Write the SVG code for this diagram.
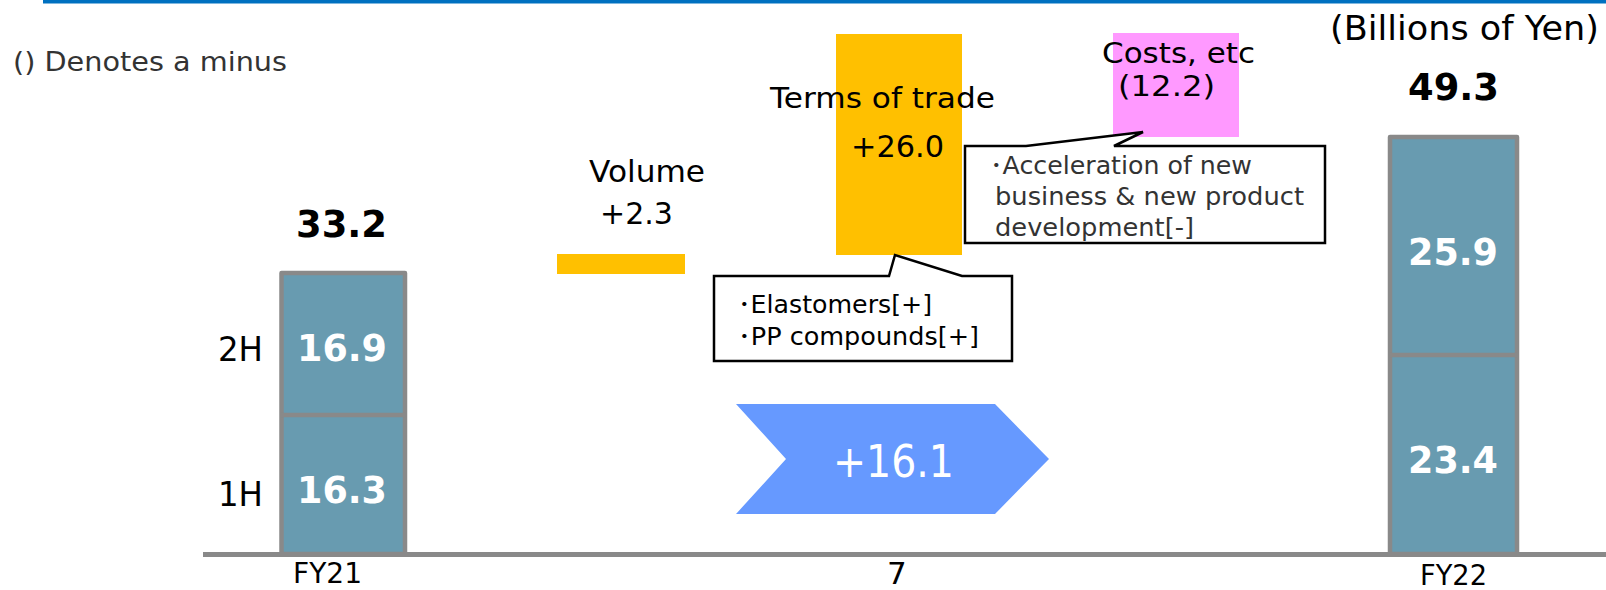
<svg xmlns="http://www.w3.org/2000/svg" width="1606" height="590" viewBox="0 0 1606 590">
<style>
text{font-family:"DejaVu Sans","Noto Sans CJK JP",sans-serif;}
.t{fill:#000;}
.g{fill:#333;}
.b{font-weight:bold;}
.w{fill:#fff;}
.bar{fill:#689BB0;stroke:#898989;stroke-width:4.5;stroke-linejoin:round;}
.div{stroke:#898989;stroke-width:4.5;}
.call{fill:#fff;stroke:#000;stroke-width:2.5;}
</style>
<rect x="43" y="0" width="1563" height="3.5" fill="#0070C0"/>
<text class="g" x="13" y="71" font-size="26" textLength="274" lengthAdjust="spacingAndGlyphs">() Denotes a minus</text>
<text class="t" x="1330" y="40" font-size="33" textLength="269" lengthAdjust="spacingAndGlyphs">(Billions of Yen)</text>

<g id="fy21">
<rect class="bar" x="281.5" y="273" width="123.5" height="281"/>
<line class="div" x1="281.5" y1="415" x2="405" y2="415"/>
<text class="t b" x="296" y="237" font-size="38" textLength="91" lengthAdjust="spacingAndGlyphs">33.2</text>
<text class="w b" x="297" y="361" font-size="37" textLength="90" lengthAdjust="spacingAndGlyphs">16.9</text>
<text class="w b" x="297" y="503" font-size="37" textLength="90" lengthAdjust="spacingAndGlyphs">16.3</text>
<text class="t" x="218" y="361" font-size="33" textLength="45" lengthAdjust="spacingAndGlyphs">2H</text>
<text class="t" x="218" y="506" font-size="33" textLength="45" lengthAdjust="spacingAndGlyphs">1H</text>
<text class="t" x="293" y="583" font-size="28" textLength="69" lengthAdjust="spacingAndGlyphs">FY21</text>
</g>

<g id="volume">
<rect x="557" y="254" width="128" height="20" fill="#FFC000"/>
<text class="t" x="589" y="182" font-size="30" textLength="116" lengthAdjust="spacingAndGlyphs">Volume</text>
<text class="t" x="600" y="224" font-size="30" textLength="73" lengthAdjust="spacingAndGlyphs">+2.3</text>
</g>

<g id="terms">
<rect x="836" y="34" width="126" height="221" fill="#FFC000"/>
<text class="t" x="770" y="108" font-size="29" textLength="225" lengthAdjust="spacingAndGlyphs">Terms of trade</text>
<text class="t" x="851" y="157" font-size="30" textLength="93" lengthAdjust="spacingAndGlyphs">+26.0</text>
</g>

<g id="terms-callout">
<path class="call" d="M714,276 L889,276 L895,255 L962,276 L1012,276 L1012,361 L714,361 Z"/>
<text class="t" x="738" y="313" font-size="24" textLength="194" lengthAdjust="spacingAndGlyphs">･Elastomers[+]</text>
<text class="t" x="738" y="345" font-size="24" textLength="241" lengthAdjust="spacingAndGlyphs">･PP compounds[+]</text>
</g>

<g id="costs">
<rect x="1113" y="33" width="126" height="104" fill="#FF99FF"/>
<text class="t" x="1102" y="63" font-size="29" textLength="153" lengthAdjust="spacingAndGlyphs">Costs, etc</text>
<text class="t" x="1118" y="96" font-size="29" textLength="97" lengthAdjust="spacingAndGlyphs">(12.2)</text>
</g>

<g id="costs-callout">
<path class="call" d="M965,146 L1026,146 L1143,132 L1114,146 L1325,146 L1325,243 L965,243 Z"/>
<text class="g" x="990" y="174" font-size="24" textLength="262" lengthAdjust="spacingAndGlyphs">･Acceleration of new</text>
<text class="g" x="995" y="205" font-size="24" textLength="309" lengthAdjust="spacingAndGlyphs">business &amp; new product</text>
<text class="g" x="995" y="236" font-size="24" textLength="199" lengthAdjust="spacingAndGlyphs">development[-]</text>
</g>

<g id="total-change">
<polygon points="736,404 995,404 1049,459 995,514 736,514 786,459" fill="#6699FF"/>
<text class="w" x="833" y="477" font-size="44" textLength="121" lengthAdjust="spacingAndGlyphs">+16.1</text>
</g>

<g id="fy22">
<rect class="bar" x="1390" y="137" width="127" height="417"/>
<line class="div" x1="1390" y1="355" x2="1517" y2="355"/>
<text class="t b" x="1408" y="100" font-size="38" textLength="91" lengthAdjust="spacingAndGlyphs">49.3</text>
<text class="w b" x="1408" y="265" font-size="37" textLength="90" lengthAdjust="spacingAndGlyphs">25.9</text>
<text class="w b" x="1408" y="473" font-size="37" textLength="90" lengthAdjust="spacingAndGlyphs">23.4</text>
<text class="t" x="1420" y="585" font-size="28" textLength="67" lengthAdjust="spacingAndGlyphs">FY22</text>
</g>

<g id="connectors">
<line x1="203" y1="554.5" x2="1606" y2="554.5" stroke="#898989" stroke-width="5"/>
</g>
<text class="t" x="887" y="584" font-size="31">7</text>
</svg>
